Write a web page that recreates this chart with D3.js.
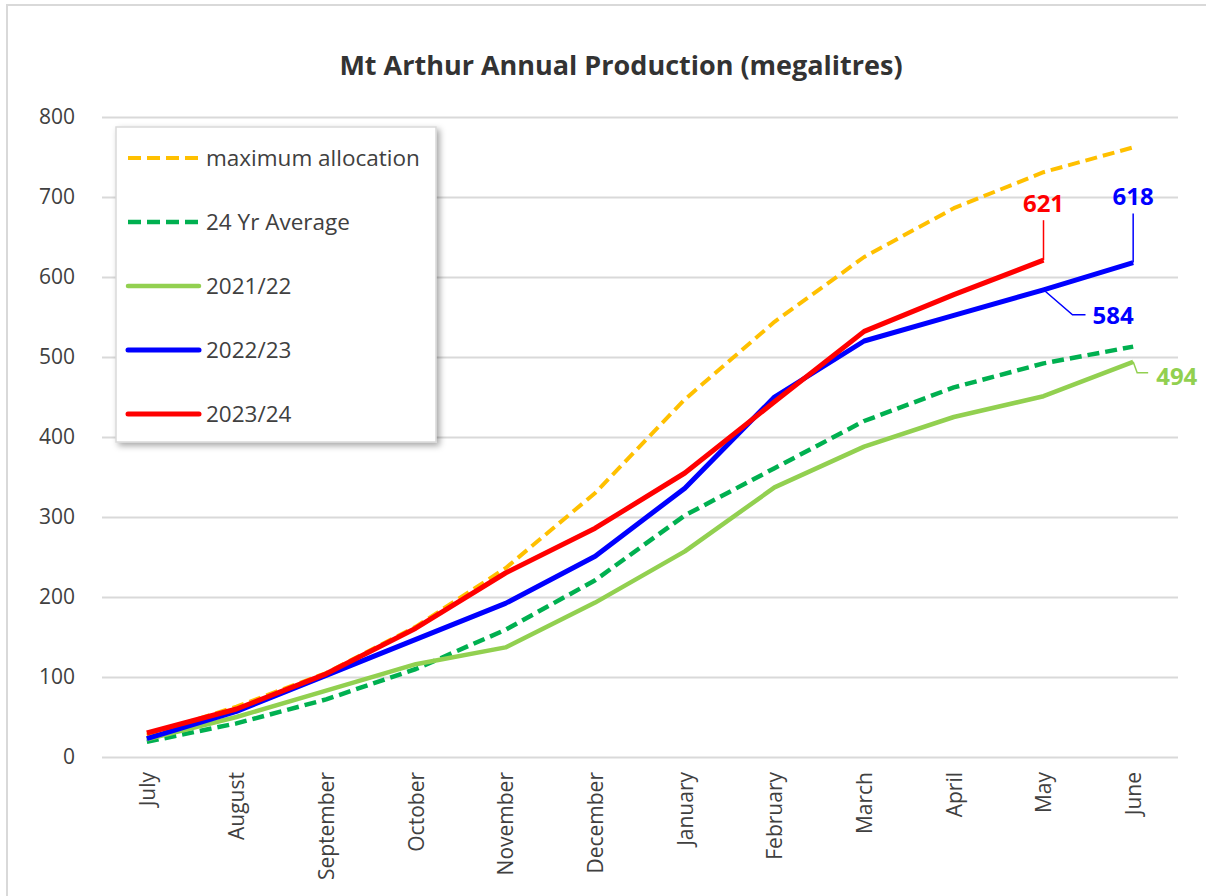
<!DOCTYPE html>
<html>
<head>
<meta charset="utf-8">
<script src="https://cdn.jsdelivr.net/npm/d3@7"></script>
<style>
  body { margin: 0; background: #fff; }
  svg { display: block; }
</style>
</head>
<body>
<script>
// Mt Arthur annual production chart

let width = 1206;
let height = 896;

// Data
const months = ["July", "August", "September", "October", "November", "December",
                "January", "February", "March", "April", "May", "June"];
const yTicks = [0, 100, 200, 300, 400, 500, 600, 700, 800];

const maxAllocation = [27, 63, 105, 163, 236, 330, 447, 544, 625, 686, 731, 762];
const avg24 = [19, 42, 72, 110, 159, 221, 302, 361, 420, 462, 492, 513];
const fy2122 = [22, 50, 83, 116, 137, 193, 257, 337, 388, 425, 451, 494];
const fy2223 = [23, 57, 102, 147, 192, 251, 336, 450, 520, 552, 584, 618];
const fy2324 = [30, 60, 104, 161, 230, 286, 355, 444, 532, 578, 621];

// Colours
let grid_color = "#d9d9d9";
let text_color = "#404040";

const series = [
  {name: "maximum allocation", values: maxAllocation, color: "#ffc000", dash: "12,6", w: 4},
  {name: "24 Yr Average", values: avg24, color: "#00b050", dash: "12,6", w: 4.5},
  {name: "2021/22", values: fy2122, color: "#92d050", dash: null, w: 4.5},
  {name: "2022/23", values: fy2223, color: "#0000ff", dash: null, w: 5},
  {name: "2023/24", values: fy2324, color: "#ff0000", dash: null, w: 5}
];

let svg = d3.select("body")
  .append("svg")
  .attr("width", width)
  .attr("height", height);

// outer frame
svg.append("rect")
  .attr("x", 7).attr("y", 5)
  .attr("width", width + 20).attr("height", height + 20)
  .attr("fill", "#fff")
  .attr("stroke", grid_color)
  .attr("stroke-width", 2);

svg.append("text")
  .attr("x", 621).attr("y", 75)
  .attr("text-anchor", "middle")
  .attr("font-family", "Open Sans")
  .attr("font-weight", 700)
  .attr("font-size", 27)
  .attr("fill", "#333333")
  .text("Mt Arthur Annual Production (megalitres)");

const plot = {left: 102, right: 1178, top: 117, bottom: 757};

const x = d3.scalePoint()
  .domain(months)
  .range([plot.left, plot.right])
  .padding(0.5);

const y = d3.scaleLinear()
  .domain([0, 800])
  .range([plot.bottom, plot.top]);

// gridlines + y labels
let yAxis = svg.append("g")
  .attr("transform", `translate(${plot.left},0)`)
  .call(d3.axisLeft(y).tickValues(yTicks).tickSize(-(plot.right - plot.left)).tickPadding(27));
yAxis.select(".domain").remove();
yAxis.selectAll(".tick line").attr("stroke", grid_color).attr("stroke-width", 2);
yAxis.selectAll(".tick text")
  .attr("font-family", "Open Sans")
  .attr("font-size", 21)
  .attr("fill", text_color);

// month labels
let xAxis = svg.append("g")
  .attr("transform", `translate(0,${plot.bottom})`)
  .call(d3.axisBottom(x).tickSize(0));
xAxis.select(".domain").remove();
xAxis.selectAll(".tick text")
  .attr("transform", "rotate(-90)")
  .attr("text-anchor", "end")
  .attr("x", -15)
  .attr("y", 0)
  .attr("dy", "0.35em")
  .attr("font-family", "Open Sans")
  .attr("font-size", 21)
  .attr("fill", text_color);

// lines
const line = d3.line()
  .x((d, i) => x(months[i]))
  .y(d => y(d));

svg.selectAll(".series")
  .data(series)
  .enter().append("path")
  .attr("class", "series")
  .attr("d", d => line(d.values))
  .attr("fill", "none")
  .attr("stroke", d => d.color)
  .attr("stroke-width", d => d.w)
  .attr("stroke-dasharray", d => d.dash)
  .attr("stroke-linejoin", "round");

// data labels with leader lines
function lastPoint(vals, idx) {
  return [x(months[idx]), y(vals[idx])];
}

let lab = svg.append("g")
  .attr("font-family", "Open Sans")
  .attr("font-weight", 700)
  .attr("font-size", 24);

// 621 (red, May)
let p = lastPoint(fy2324, 10);
lab.append("path").attr("d", `M${p[0]},${p[1]}V${p[1] - 40}`)
  .attr("stroke", "#ff0000").attr("stroke-width", 1.5).attr("fill", "none");
lab.append("text").attr("x", p[0]).attr("y", p[1] - 48)
  .attr("text-anchor", "middle").attr("fill", "#ff0000").text(fy2324[10]);

// 618 (blue, June)
p = lastPoint(fy2223, 11);
lab.append("path").attr("d", `M${p[0]},${p[1]}V${p[1] - 49}`)
  .attr("stroke", "#0000ff").attr("stroke-width", 1.5).attr("fill", "none");
lab.append("text").attr("x", p[0]).attr("y", p[1] - 58)
  .attr("text-anchor", "middle").attr("fill", "#0000ff").text(fy2223[11]);

// 584 (blue, May)
p = lastPoint(fy2223, 10);
lab.append("path").attr("d", `M${p[0]},${p[1]}L${p[0] + 29},${p[1] + 25}H${p[0] + 42}`)
  .attr("stroke", "#0000ff").attr("stroke-width", 1.5).attr("fill", "none");
lab.append("text").attr("x", p[0] + 49).attr("y", p[1] + 34)
  .attr("fill", "#0000ff").text(fy2223[10]);

// 494 (light green, June)
p = lastPoint(fy2122, 11);
lab.append("path").attr("d", `M${p[0]},${p[1]}L${p[0] + 4},${p[1] + 11}H${p[0] + 15}`)
  .attr("stroke", "#92d050").attr("stroke-width", 1.5).attr("fill", "none");
lab.append("text").attr("x", p[0] + 23).attr("y", p[1] + 23)
  .attr("fill", "#92d050").text(fy2122[11]);

// legend
let defs = svg.append("defs");
let f = defs.append("filter").attr("id", "shadow")
  .attr("x", "-10%").attr("y", "-10%").attr("width", "130%").attr("height", "130%");
f.append("feDropShadow")
  .attr("dx", 3).attr("dy", 3).attr("stdDeviation", 3)
  .attr("flood-color", "#000").attr("flood-opacity", 0.35);

let legend = svg.append("g").attr("transform", "translate(116,127)");
legend.append("rect")
  .attr("width", 320).attr("height", 315)
  .attr("fill", "#fff")
  .attr("stroke", grid_color)
  .attr("stroke-width", 1.5)
  .attr("filter", "url(#shadow)");

let items = legend.selectAll(".item")
  .data(series)
  .enter().append("g")
  .attr("class", "item")
  .attr("transform", (d, i) => `translate(0,${31 + i * 64})`);

items.append("line")
  .attr("x1", 12).attr("x2", 83)
  .attr("stroke", d => d.color)
  .attr("stroke-width", d => d.w)
  .attr("stroke-dasharray", d => d.dash ? "13,6" : null)
  .attr("stroke-linecap", d => d.dash ? "butt" : "round");

items.append("text")
  .attr("x", 90).attr("dy", "0.35em")
  .attr("font-family", "Open Sans")
  .attr("font-size", 22.5)
  .attr("fill", text_color)
  .text(d => d.name);
</script>
</body>
</html>
